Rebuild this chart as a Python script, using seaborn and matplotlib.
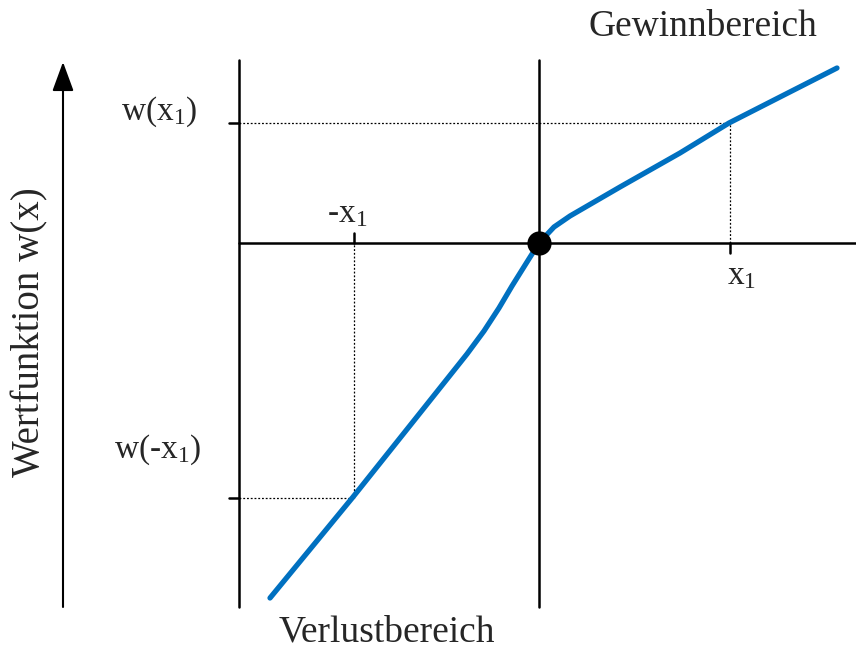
import numpy as np
import pandas as pd
import matplotlib
matplotlib.use("Agg")
import matplotlib.pyplot as plt
import seaborn as sns

# value function points (origin at reference point)
curve_x = [-2.69, -1.86, -1.19, -0.72, -0.55, -0.40, -0.27, -0.12, 0.0,
           0.15, 0.31, 0.81, 1.41, 1.90, 2.41, 2.98]
curve_y = [-3.55, -2.54, -1.70, -1.11, -0.88, -0.65, -0.43, -0.19, 0.0,
           0.16, 0.27, 0.56, 0.90, 1.20, 1.46, 1.75]

x1 = 1.91
w_x1 = 1.20
neg_x1 = -1.85
w_neg_x1 = -2.55

label_gain = "Gewinnbereich"
label_loss = "Verlustbereich"
label_value = "Wertfunktion w(x)"

sns.set_theme(style="white")
plt.rcParams['font.family'] = ['Liberation Serif', 'DejaVu Serif']
plt.rcParams['mathtext.fontset'] = 'custom'
plt.rcParams['mathtext.rm'] = 'Liberation Serif'
plt.rcParams['mathtext.it'] = 'Liberation Serif'

fig = plt.figure(figsize=(8.56, 6.48), dpi=100)
ax = fig.add_axes([0, 0, 1, 1])
ax.set_xlim(-5.39, 3.17)
ax.set_ylim(-4.05, 2.43)
ax.axis('off')

# axes frame lines
ax_top, ax_bottom = 1.83, -3.64
left_x = -3.0
ax.plot([left_x, left_x], [ax_bottom, ax_top], color='black', lw=1.8)
ax.plot([0, 0], [ax_bottom, ax_top], color='black', lw=1.8)
ax.plot([left_x, 3.17], [0, 0], color='black', lw=1.8)

# ticks
ax.plot([left_x - 0.1, left_x], [w_x1, w_x1], color='black', lw=1.8)
ax.plot([left_x - 0.1, left_x], [w_neg_x1, w_neg_x1], color='black', lw=1.8)
ax.plot([neg_x1, neg_x1], [0, 0.1], color='black', lw=1.8)
ax.plot([x1, x1], [-0.1, 0], color='black', lw=1.8)

# dotted helper lines
dot = dict(color='black', lw=0.9, linestyle=(0, (1.5, 1.5)))
ax.plot([left_x, x1], [w_x1, w_x1], **dot)
ax.plot([x1, x1], [0, w_x1], **dot)
ax.plot([left_x, neg_x1], [w_neg_x1, w_neg_x1], **dot)
ax.plot([neg_x1, neg_x1], [w_neg_x1, 0], **dot)

# curve
df = pd.DataFrame({'x': curve_x, 'y': curve_y})
sns.lineplot(data=df, x='x', y='y', ax=ax, color='#0070C0', lw=3.8,
             sort=False, solid_capstyle='round', solid_joinstyle='round')
sns.scatterplot(x=[0], y=[0], ax=ax, color='black', s=260, zorder=5, edgecolor='black')

# left arrow
ax.annotate('', xy=(-4.76, 1.81), xytext=(-4.76, -3.64),
            arrowprops=dict(arrowstyle='-|>,head_length=0.6,head_width=0.22', color='black', lw=1.5,
                            mutation_scale=30, shrinkA=0, shrinkB=0))

ax.text(1.64, 2.16, label_gain, fontsize=27, ha='center', va='center')
ax.text(-1.52, -3.89, label_loss, fontsize=27, ha='center', va='center')
ax.text(-5.09, -0.89, label_value, fontsize=28, ha='center', va='center', rotation=90)
fs = 24
ax.text(-3.80, 1.31, r'w(x$_{\mathrm{1}}$)', fontsize=fs, ha='center', va='center')
ax.text(-3.81, -2.07, r'w(-x$_{\mathrm{1}}$)', fontsize=fs, ha='center', va='center')
ax.text(-1.92, 0.29, r'-x$_{\mathrm{1}}$', fontsize=fs, ha='center', va='center')
ax.text(2.03, -0.33, r'x$_{\mathrm{1}}$', fontsize=fs, ha='center', va='center')

fig.savefig('out.png', dpi=100)
plt.close(fig)
